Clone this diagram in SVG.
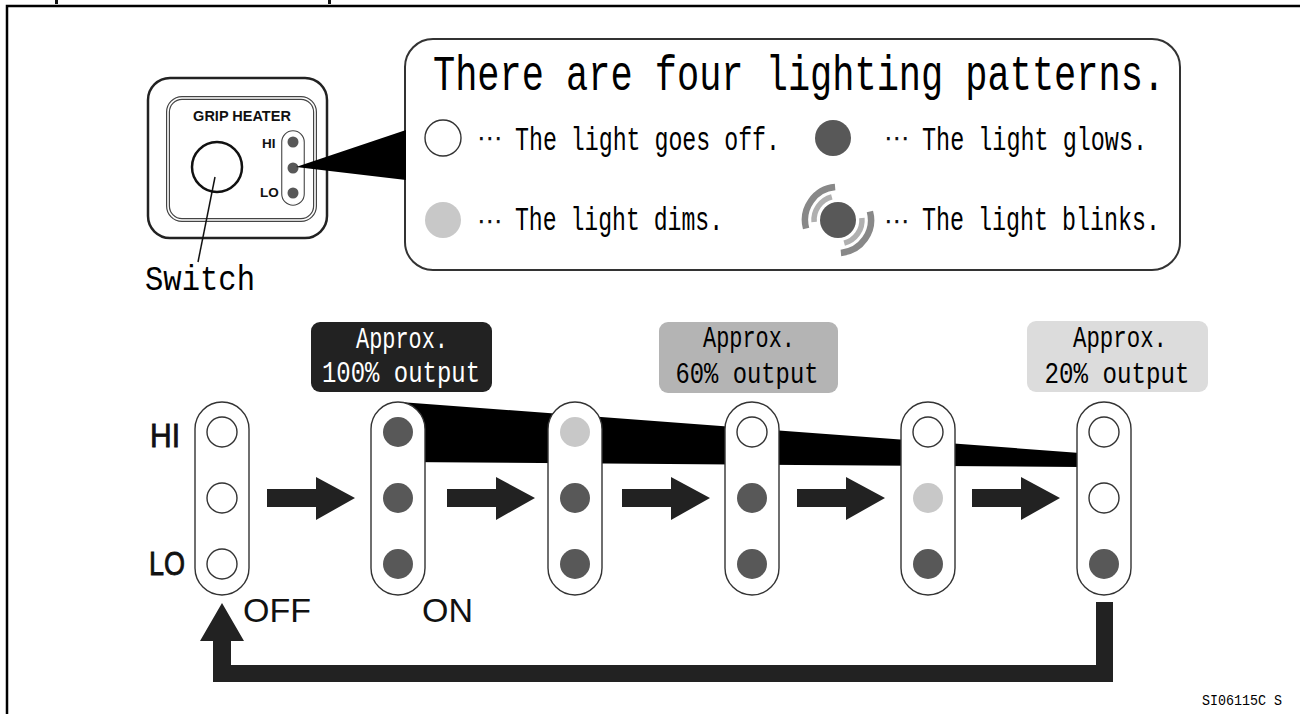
<svg xmlns="http://www.w3.org/2000/svg" width="1300" height="714" viewBox="0 0 1300 714">
<defs>
<style>
.mono{font-family:"Liberation Mono","DejaVu Sans Mono",monospace;fill:#000}
.sans{font-family:"Liberation Sans",Arial,sans-serif;fill:#111}
.pill{fill:#fff;stroke:#333;stroke-width:1.4}
.off{fill:#fff;stroke:#333;stroke-width:1.4}
.glow{fill:#585858}
.dim{fill:#c8c8c8}
.arrow{fill:#222}
.dots{font-family:"DejaVu Sans",sans-serif;fill:#111}
</style>
</defs>
<rect width="1300" height="714" fill="#fff"/>
<!-- frame -->
<path d="M7,714 V6 H1300" fill="none" stroke="#000" stroke-width="2.5"/>
<rect x="55" y="0" width="3" height="4" fill="#111"/>
<rect x="328" y="0" width="3" height="4" fill="#111"/>

<!-- switch panel -->
<g id="switch-panel">
<rect x="148" y="78" width="179" height="160" rx="22" fill="#fff" stroke="#222" stroke-width="2.5"/>
<rect x="168" y="98" width="147" height="122" rx="14" fill="none" stroke="#444" stroke-width="4"/>
<rect x="168" y="98" width="147" height="122" rx="14" fill="none" stroke="#fff" stroke-width="1.6"/>
<text class="sans" x="242" y="121" font-size="14.5" font-weight="bold" text-anchor="middle">GRIP HEATER</text>
<circle cx="217" cy="167" r="25" fill="#fff" stroke="#111" stroke-width="2.5"/>
<rect x="283" y="132" width="20" height="72" rx="10" fill="none" stroke="#444" stroke-width="3.6"/>
<rect x="283" y="132" width="20" height="72" rx="10" fill="#fff" stroke="#fff" stroke-width="1.4"/>
<circle cx="293" cy="142" r="5.5" class="glow"/>
<circle cx="293" cy="168" r="5.5" class="glow"/>
<circle cx="293" cy="193" r="5.5" class="glow"/>
<text class="sans" x="262" y="148" font-size="13.5" font-weight="bold">HI</text>
<text class="sans" x="260" y="197" font-size="13.5" font-weight="bold">LO</text>
<line x1="215" y1="177" x2="198" y2="262" stroke="#111" stroke-width="1.5"/>
<text class="mono" x="145" y="290" font-size="35" textLength="110" lengthAdjust="spacingAndGlyphs">Switch</text>
</g>

<!-- callout -->
<g id="callout">
<rect x="405" y="39" width="775" height="231" rx="28" fill="#fff" stroke="#333" stroke-width="2"/>
<polygon points="296,167 406,130 406,180" fill="#000"/>
<text class="mono" x="433" y="90" font-size="50" textLength="732" lengthAdjust="spacingAndGlyphs">There are four lighting patterns.</text>
<g id="legend-off">
<circle cx="443" cy="138" r="18" class="off"/>
<text class="dots" x="477" y="147" font-size="26" textLength="26" lengthAdjust="spacingAndGlyphs">⋯</text>
<text class="mono" x="515" y="150" font-size="34" textLength="265" lengthAdjust="spacingAndGlyphs">The light goes off.</text>
</g>
<g id="legend-dim">
<circle cx="443" cy="220" r="18" class="dim"/>
<text class="dots" x="477" y="230" font-size="26" textLength="26" lengthAdjust="spacingAndGlyphs">⋯</text>
<text class="mono" x="515" y="230" font-size="34" textLength="208" lengthAdjust="spacingAndGlyphs">The light dims.</text>
</g>
<g id="legend-glow">
<circle cx="833" cy="138" r="18" class="glow"/>
<text class="dots" x="884" y="147" font-size="26" textLength="26" lengthAdjust="spacingAndGlyphs">⋯</text>
<text class="mono" x="922" y="150" font-size="34" textLength="225" lengthAdjust="spacingAndGlyphs">The light glows.</text>
</g>
<g id="legend-blink">
<path d="M814.1,222.1 A24,24 0 0 1 831.8,196.8 M861.9,217.9 A24,24 0 0 1 844.2,243.2" fill="none" stroke="#b0b0b0" stroke-width="5.5"/>
<path d="M806.1,228.5 A33,33 0 0 1 835.1,187.1 M869.9,211.5 A33,33 0 0 1 840.9,252.9" fill="none" stroke="#888" stroke-width="6.5"/>
<circle cx="838" cy="220" r="18" class="glow"/>
<text class="dots" x="884" y="230" font-size="26" textLength="26" lengthAdjust="spacingAndGlyphs">⋯</text>
<text class="mono" x="922" y="230" font-size="34" textLength="238" lengthAdjust="spacingAndGlyphs">The light blinks.</text>
</g>
</g>

<!-- output wedge -->
<polygon id="wedge" points="400,402 1080,453 1080,467 400,462" fill="#000"/>

<!-- output labels -->
<g id="label-100">
<rect x="311" y="322" width="181" height="70" rx="9" fill="#222"/>
<text class="mono" x="402" y="348" font-size="30" text-anchor="middle" textLength="92" lengthAdjust="spacingAndGlyphs" style="fill:#fff">Approx.</text>
<text class="mono" x="401" y="382" font-size="30" text-anchor="middle" textLength="158" lengthAdjust="spacingAndGlyphs" style="fill:#fff">100% output</text>
</g>
<g id="label-60">
<rect x="659" y="322" width="179" height="71" rx="9" fill="#b4b4b4"/>
<text class="mono" x="749" y="347" font-size="30" text-anchor="middle" textLength="92" lengthAdjust="spacingAndGlyphs">Approx.</text>
<text class="mono" x="747" y="383" font-size="30" text-anchor="middle" textLength="143" lengthAdjust="spacingAndGlyphs">60% output</text>
</g>
<g id="label-20">
<rect x="1027" y="321" width="181" height="71" rx="9" fill="#dcdcdc"/>
<text class="mono" x="1120" y="347" font-size="30" text-anchor="middle" textLength="94" lengthAdjust="spacingAndGlyphs">Approx.</text>
<text class="mono" x="1117" y="383" font-size="30" text-anchor="middle" textLength="145" lengthAdjust="spacingAndGlyphs">20% output</text>
</g>

<!-- side labels -->
<text class="sans" x="150" y="447" font-size="34" textLength="30" lengthAdjust="spacingAndGlyphs" stroke="#111" stroke-width="0.9">HI</text>
<text class="sans" x="149" y="575" font-size="34" textLength="36" lengthAdjust="spacingAndGlyphs" stroke="#111" stroke-width="0.9">LO</text>
<text class="sans" x="243" y="622" font-size="34">OFF</text>
<text class="sans" x="422" y="622" font-size="34">ON</text>

<!-- pills -->
<g id="state-off">
<rect x="195" y="402" width="54" height="193" rx="27" class="pill"/>
<circle cx="222" cy="432" r="15" class="off"/>
<circle cx="222" cy="498" r="15" class="off"/>
<circle cx="222" cy="564" r="15" class="off"/>
</g>
<g id="state-on">
<rect x="371" y="402" width="54" height="193" rx="27" class="pill"/>
<circle cx="398" cy="432" r="15" class="glow"/>
<circle cx="398" cy="498" r="15" class="glow"/>
<circle cx="398" cy="564" r="15" class="glow"/>
</g>
<g id="state-3">
<rect x="548" y="402" width="54" height="193" rx="27" class="pill"/>
<circle cx="575" cy="432" r="15" class="dim"/>
<circle cx="575" cy="498" r="15" class="glow"/>
<circle cx="575" cy="564" r="15" class="glow"/>
</g>
<g id="state-4">
<rect x="725" y="402" width="54" height="193" rx="27" class="pill"/>
<circle cx="752" cy="432" r="15" class="off"/>
<circle cx="752" cy="498" r="15" class="glow"/>
<circle cx="752" cy="564" r="15" class="glow"/>
</g>
<g id="state-5">
<rect x="901" y="402" width="54" height="193" rx="27" class="pill"/>
<circle cx="928" cy="432" r="15" class="off"/>
<circle cx="928" cy="498" r="15" class="dim"/>
<circle cx="928" cy="564" r="15" class="glow"/>
</g>
<g id="state-6">
<rect x="1077" y="402" width="54" height="193" rx="27" class="pill"/>
<circle cx="1104" cy="432" r="15" class="off"/>
<circle cx="1104" cy="498" r="15" class="off"/>
<circle cx="1104" cy="564" r="15" class="glow"/>
</g>

<!-- connectors -->
<g id="connectors">
<polygon class="arrow" points="267,489 316,489 316,477 355,498 316,520 316,507 267,507"/>
<polygon class="arrow" points="447,489 496,489 496,477 535,498 496,520 496,507 447,507"/>
<polygon class="arrow" points="622,489 671,489 671,477 710,498 671,520 671,507 622,507"/>
<polygon class="arrow" points="797,489 846,489 846,477 885,498 846,520 846,507 797,507"/>
<polygon class="arrow" points="972,489 1021,489 1021,477 1060,498 1021,520 1021,507 972,507"/>
<polygon class="arrow" points="1113,602 1113,682 213,682 213,641 200,641 222,603 244,641 231,641 231,665 1096,665 1096,602"/>
</g>

<text class="mono" x="1202" y="705" font-size="15" textLength="80" lengthAdjust="spacingAndGlyphs">SI06115C  S</text>
</svg>
